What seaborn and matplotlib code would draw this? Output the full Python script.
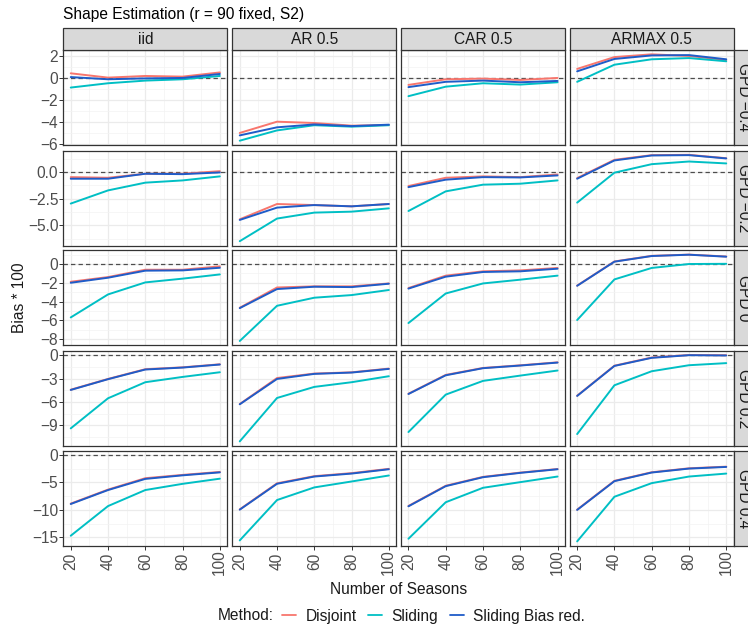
import numpy as np
import pandas as pd
import matplotlib
matplotlib.use("Agg")
import matplotlib.pyplot as plt
import seaborn as sns
from matplotlib.patches import Rectangle
from matplotlib.lines import Line2D

# ---------------- data ----------------
seasons = [20, 40, 60, 80, 100]
processes = ["iid", "AR 0.5", "CAR 0.5", "ARMAX 0.5"]
shapes = ["GPD \u22120.4", "GPD \u22120.2", "GPD 0", "GPD 0.2", "GPD 0.4"]
methods = ["Disjoint", "Sliding", "Sliding Bias red."]

# each list: [iid, AR 0.5, CAR 0.5, ARMAX 0.5], values over seasons
disjoint_m04 = [[0.39, 0.0, 0.15, 0.09, 0.47], [-5.01, -3.99, -4.11, -4.35, -4.29],
                [-0.66, -0.15, -0.09, -0.21, -0.03], [0.79, 1.86, 2.11, 1.96, 1.59]]
sliding_m04 = [[-0.90, -0.51, -0.27, -0.15, 0.15], [-5.71, -4.78, -4.31, -4.44, -4.31],
               [-1.68, -0.82, -0.51, -0.63, -0.42], [-0.38, 1.17, 1.66, 1.77, 1.48]]
biasred_m04 = [[0.05, -0.15, -0.07, -0.03, 0.33], [-5.23, -4.50, -4.24, -4.39, -4.26],
               [-0.86, -0.38, -0.27, -0.42, -0.30], [0.57, 1.69, 2.01, 2.04, 1.66]]

disjoint_m02 = [[-0.47, -0.53, -0.15, -0.15, 0.09], [-4.44, -3.00, -3.10, -3.22, -3.00],
                [-1.31, -0.53, -0.40, -0.47, -0.22], [-0.56, 1.16, 1.60, 1.63, 1.31]]
sliding_m02 = [[-2.96, -1.72, -0.99, -0.78, -0.40], [-6.50, -4.37, -3.81, -3.72, -3.41],
               [-3.66, -1.81, -1.18, -1.09, -0.78], [-2.87, -0.05, 0.75, 1.00, 0.82]]
biasred_m02 = [[-0.62, -0.62, -0.15, -0.19, -0.03], [-4.50, -3.34, -3.10, -3.22, -3.00],
               [-1.41, -0.71, -0.47, -0.50, -0.31], [-0.62, 1.10, 1.57, 1.60, 1.29]]

disjoint_0 = [[-1.89, -1.39, -0.61, -0.61, -0.25], [-4.66, -2.50, -2.38, -2.38, -2.07],
              [-2.56, -1.24, -0.78, -0.68, -0.42], [-2.30, 0.27, 0.87, 1.00, 0.80]]
sliding_0 = [[-5.69, -3.24, -1.96, -1.56, -1.11], [-8.20, -4.45, -3.59, -3.31, -2.77],
             [-6.29, -3.14, -2.07, -1.67, -1.24], [-5.97, -1.64, -0.42, 0.00, 0.02]]
biasred_0 = [[-2.00, -1.46, -0.71, -0.68, -0.40], [-4.70, -2.67, -2.42, -2.46, -2.10],
             [-2.62, -1.35, -0.85, -0.78, -0.50], [-2.32, 0.25, 0.85, 0.99, 0.78]]

disjoint_p02 = [[-4.43, -3.05, -1.80, -1.56, -1.17], [-6.27, -2.93, -2.36, -2.20, -1.72],
                [-4.95, -2.53, -1.64, -1.30, -0.92], [-5.20, -1.35, -0.30, 0.02, -0.01]]
sliding_p02 = [[-9.39, -5.53, -3.47, -2.79, -2.19], [-11.06, -5.49, -4.07, -3.47, -2.70],
               [-9.86, -5.06, -3.30, -2.62, -1.97], [-10.12, -3.86, -2.06, -1.29, -1.02]]
biasred_p02 = [[-4.46, -3.08, -1.84, -1.59, -1.20], [-6.30, -3.05, -2.40, -2.23, -1.76],
               [-4.98, -2.58, -1.67, -1.33, -0.95], [-5.23, -1.38, -0.34, 0.00, -0.04]]

disjoint_p04 = [[-8.85, -6.30, -4.22, -3.62, -3.08], [-9.90, -5.15, -3.85, -3.30, -2.52],
                [-9.28, -5.60, -3.98, -3.20, -2.55], [-9.95, -4.70, -3.14, -2.42, -2.12]]
sliding_p04 = [[-14.70, -9.30, -6.38, -5.25, -4.31], [-15.55, -8.20, -5.90, -4.82, -3.73],
               [-15.25, -8.60, -5.97, -4.94, -3.92], [-15.73, -7.60, -5.12, -3.92, -3.38]]
biasred_p04 = [[-8.92, -6.38, -4.35, -3.70, -3.16], [-9.95, -5.24, -3.92, -3.38, -2.59],
               [-9.34, -5.67, -4.04, -3.25, -2.59], [-10.00, -4.76, -3.19, -2.47, -2.17]]

y_ticks = [[2, 0, -2, -4, -6], [0, -2.5, -5], [0, -2, -4, -6, -8],
           [0, -3, -6, -9], [0, -5, -10, -15]]
y_decimals = [0, 1, 0, 0, 0]

palette = {"Disjoint": "#F8766D", "Sliding": "#00BFC4", "Sliding Bias red.": "#1F5CC8"}

rows_data = [
    (disjoint_m04, sliding_m04, biasred_m04),
    (disjoint_m02, sliding_m02, biasred_m02),
    (disjoint_0, sliding_0, biasred_0),
    (disjoint_p02, sliding_p02, biasred_p02),
    (disjoint_p04, sliding_p04, biasred_p04),
]

records = []
for r, triple in enumerate(rows_data):
    for m, arr in zip(methods, triple):
        for c, proc in enumerate(processes):
            for s, v in zip(seasons, arr[c]):
                records.append({"shape": shapes[r], "process": proc, "method": m,
                                "seasons": s, "bias": v})
df = pd.DataFrame(records)

# ---------------- figure ----------------
sns.set_theme(style="white")
plt.rcParams["font.family"] = ["Liberation Sans", "DejaVu Sans"]
plt.rcParams["axes.unicode_minus"] = True

W, H = 748, 627
fig = plt.figure(figsize=(W / 100, H / 100), dpi=100)
fig.patch.set_facecolor("white")


def fx(px):
    return px / W


def fy(py):
    return 1 - py / H


col_left = [63.3, 232.3, 401.0, 569.7]
pw = 164.0
row_top = [50.0, 150.5, 250.3, 350.7, 450.7]
ph = 95.0
FS = 11.2
border = "#333333"

x_major = [20, 40, 60, 80, 100]
x_minor = [30, 50, 70, 90]


def fmt(v, d):
    s = f"{abs(v):.{d}f}"
    return ("\u2212" + s) if v < 0 else s


for r in range(5):
    sub_r = df[df["shape"] == shapes[r]]
    lo = min(sub_r["bias"].min(), 0.0)
    hi = max(sub_r["bias"].max(), 0.0)
    pad = 0.05 * (hi - lo)
    ylo, yhi = lo - pad, hi + pad
    majors = sorted(y_ticks[r])
    step = majors[1] - majors[0]
    ext = [majors[0] - step] + majors + [majors[-1] + step]
    minors = [(a + b) / 2 for a, b in zip(ext[:-1], ext[1:])]
    minors = [m for m in minors if ylo <= m <= yhi]
    for c in range(4):
        ax = fig.add_axes([fx(col_left[c]), fy(row_top[r] + ph), fx(pw), ph / H])
        ax.set_facecolor("white")
        sub = sub_r[sub_r["process"] == processes[c]]
        ax.axhline(0, color="#4D4D4D", lw=0.9, ls=(0, (3.5, 2.5)), zorder=2)
        sns.lineplot(data=sub, x="seasons", y="bias", hue="method",
                     hue_order=methods, palette=palette, lw=1.4,
                     legend=False, ax=ax, zorder=3, errorbar=None)
        ax.set_xlim(16, 104)
        ax.set_ylim(ylo, yhi)
        ax.set_xticks(x_major)
        ax.set_xticks(x_minor, minor=True)
        ax.set_yticks(majors)
        ax.set_yticks(minors, minor=True)
        ax.grid(which="major", color="#EBEBEB", lw=0.9, zorder=0)
        ax.grid(which="minor", color="#F3F3F3", lw=0.5, zorder=0)
        ax.set_axisbelow(True)
        ax.set_xlabel("")
        ax.set_ylabel("")
        for sp in ax.spines.values():
            sp.set_color(border)
            sp.set_linewidth(0.9)
        ax.tick_params(which="minor", length=0)
        ax.tick_params(which="major", direction="out", length=2.6, width=0.7,
                       color=border, labelsize=FS, labelcolor="#4D4D4D")
        if c == 0:
            ax.set_yticklabels([fmt(v, y_decimals[r]) for v in majors])
            ax.tick_params(axis="y", left=True, labelleft=True, pad=1.0)
        else:
            ax.tick_params(axis="y", left=False, labelleft=False)
        if r == 4:
            ax.set_xticklabels([str(v) for v in x_major])
            ax.tick_params(axis="x", bottom=True, labelbottom=True, pad=8.9,
                           labelrotation=90)
            for lbl in ax.get_xticklabels():
                lbl.set_verticalalignment("center")
                lbl.set_horizontalalignment("center")
        else:
            ax.tick_params(axis="x", bottom=False, labelbottom=False)

# top strips
for c in range(4):
    fig.patches.append(Rectangle((fx(col_left[c]), fy(50.0)), fx(pw), (50.0 - 27.7) / H,
                                 transform=fig.transFigure, facecolor="#D9D9D9",
                                 edgecolor=border, lw=0.9, zorder=5))
    fig.text(fx(col_left[c] + pw / 2), fy(39.0), processes[c], ha="center", va="center",
             fontsize=FS, color="#1A1A1A", zorder=6)

# right strips
for r in range(5):
    fig.patches.append(Rectangle((fx(733.7), fy(row_top[r] + ph)), fx(40), ph / H,
                                 transform=fig.transFigure, facecolor="#D9D9D9",
                                 edgecolor=border, lw=0.9, zorder=5))
    fig.text(fx(743.5), fy(row_top[r] + ph / 2), shapes[r], ha="center", va="center",
             rotation=-90, fontsize=FS, color="#1A1A1A", zorder=6)

# titles
fig.text(fx(63), fy(15), "Shape Estimation (r = 90 fixed, S2)", ha="left", va="center",
         fontsize=FS, color="black")
fig.text(fx(398.5), fy(589), "Number of Seasons", ha="center", va="center",
         fontsize=FS, color="#1A1A1A")
fig.text(fx(19.5), fy(298), "Bias * 100", ha="center", va="center", rotation=90,
         fontsize=FS, color="#1A1A1A")

# legend
fig.text(fx(218), fy(616), "Method:", ha="left", va="center", fontsize=FS, color="#1A1A1A")
handles = [Line2D([0], [0], color=palette[m], lw=1.3) for m in methods]
fig.legend(handles, methods, loc="center left", bbox_to_anchor=(fx(282), fy(616)),
           ncol=3, frameon=False, handlelength=0.9, handletextpad=0.6,
           columnspacing=0.75, borderpad=0, borderaxespad=0, fontsize=FS,
           labelcolor="#1A1A1A")

fig.savefig("out.png", dpi=100)
